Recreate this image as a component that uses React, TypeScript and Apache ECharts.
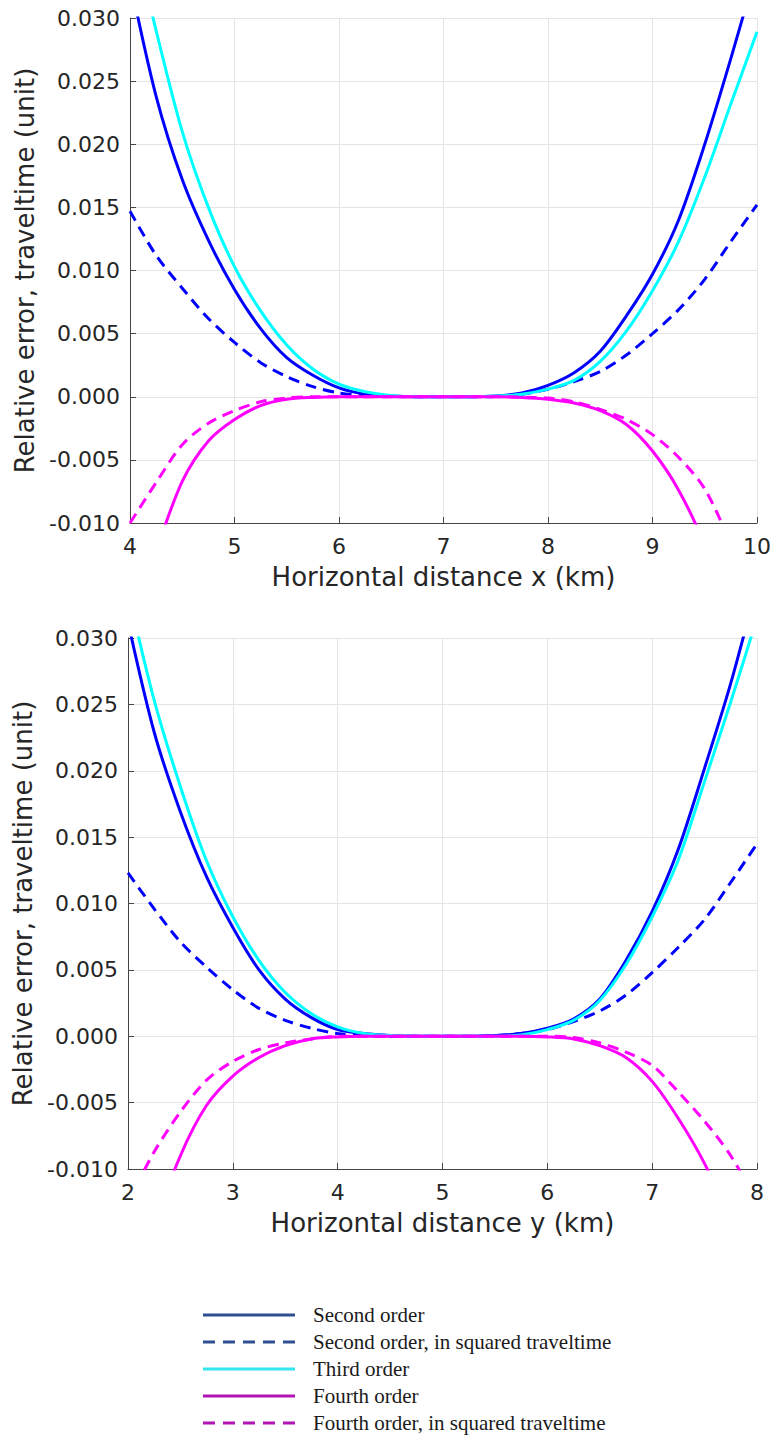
import React, { useEffect, useRef } from "react";
import * as echarts from "echarts";

// ---------- Data ----------
const topX = [4, 4.25, 4.5, 4.75, 5, 5.25, 5.5, 5.75, 6, 6.25, 6.5, 6.75, 7, 7.25, 7.5, 7.75, 8, 8.25, 8.5, 8.75, 9, 9.25, 9.5, 9.75, 10];
const topSecond = [0.033, 0.0238, 0.0172, 0.0124, 0.0085, 0.0054, 0.0031, 0.0017, 0.0007, 0.0002, 0.00005, 0, 0, 0, 0.00005, 0.0003, 0.0009, 0.0019, 0.0036, 0.0064, 0.0097, 0.014, 0.02, 0.0268, 0.034];
const topSecondSq = [0.0147, 0.0112, 0.0086, 0.0062, 0.0043, 0.0027, 0.0016, 0.0008, 0.0003, 0.0001, 0.00002, 0, 0, 0, 0.00003, 0.0002, 0.0006, 0.0012, 0.002, 0.0033, 0.005, 0.0069, 0.0093, 0.0123, 0.0152];
const topThird = [0.0377, 0.029, 0.021, 0.015, 0.0103, 0.0068, 0.0041, 0.0022, 0.001, 0.0004, 0.0001, 0, 0, 0, 0.00005, 0.0002, 0.0006, 0.0013, 0.0028, 0.0052, 0.0084, 0.0123, 0.0174, 0.0232, 0.0289];
const topFourth = [-0.018, -0.0122, -0.0067, -0.0035, -0.0018, -0.0007, -0.0002, -0.00005, 0, 0, 0, 0, 0, 0, 0, -0.00005, -0.0002, -0.0005, -0.0011, -0.0022, -0.0043, -0.0074, -0.0118, -0.018, -0.026];
const topFourthSq = [-0.01, -0.0068, -0.0038, -0.0021, -0.0011, -0.0004, -0.0001, 0, 0, 0, 0, 0, 0, 0, 0, -0.00003, -0.0001, -0.0004, -0.001, -0.0018, -0.003, -0.0048, -0.0073, -0.0117, -0.017];

const botX = [2, 2.25, 2.5, 2.75, 3, 3.25, 3.5, 3.75, 4, 4.25, 4.5, 4.75, 5, 5.25, 5.5, 5.75, 6, 6.25, 6.5, 6.75, 7, 7.25, 7.5, 7.75, 8];
const botSecond = [0.0312, 0.0229, 0.0169, 0.012, 0.0082, 0.005, 0.0028, 0.0014, 0.0005, 0.0002, 0.00005, 0, 0, 0, 0.00005, 0.0002, 0.0006, 0.0013, 0.0028, 0.0057, 0.0094, 0.0141, 0.0202, 0.0266, 0.034];
const botSecondSq = [0.0123, 0.0096, 0.0071, 0.0052, 0.0035, 0.0021, 0.0012, 0.0006, 0.0002, 0.00005, 0, 0, 0, 0, 0.00005, 0.0002, 0.0005, 0.0011, 0.0019, 0.0031, 0.0048, 0.0067, 0.0088, 0.0116, 0.0145];
const botThird = [0.0335, 0.0253, 0.0188, 0.0132, 0.009, 0.0057, 0.0033, 0.0017, 0.0007, 0.0002, 0.00005, 0, 0, 0, 0, 0.0001, 0.0005, 0.0012, 0.0027, 0.0054, 0.009, 0.0133, 0.0192, 0.0252, 0.0315];
const botFourth = [-0.025, -0.0145, -0.009, -0.0052, -0.003, -0.0016, -0.0007, -0.0002, -0.00005, 0, 0, 0, 0, 0, 0, 0, -0.00005, -0.0002, -0.0007, -0.0016, -0.0034, -0.0062, -0.0096, -0.014, -0.02];
const botFourthSq = [-0.0125, -0.0087, -0.0057, -0.0033, -0.0019, -0.001, -0.0005, -0.0002, 0, 0, 0, 0, 0, 0, 0, 0, 0, -0.0001, -0.0005, -0.0012, -0.0022, -0.0042, -0.0064, -0.009, -0.0125];

const seriesNames = [
  "Second order",
  "Second order, in squared traveltime",
  "Third order",
  "Fourth order",
  "Fourth order, in squared traveltime",
];
const lineColors = ["#0000FF", "#0000FF", "#00FFFF", "#FF00FF", "#FF00FF"];
const legendColors = ["#2d4f91", "#2d4f91", "#33e6f0", "#b313b3", "#b313b3"];
const dashed = [false, true, false, false, true];

const yTicksFormat = (v: number) => v.toFixed(3);

export default function App() {
  const ref = useRef<HTMLDivElement>(null);

  useEffect(() => {
    if (!ref.current) return;
    const chart = echarts.init(ref.current, null, { renderer: "svg" });

    const font = "DejaVu Sans";
    const textColor = "#262626";
    const axisColor = "#454545";
    const gridColor = "#e4e4e4";

    const makeX = (gridIndex: number, min: number, max: number, name: string) => ({
      type: "value",
      gridIndex,
      min,
      max,
      interval: 1,
      name,
      nameLocation: "middle",
      nameGap: 41,
      nameTextStyle: { fontFamily: font, fontSize: 26, color: textColor },
      axisLine: { show: true, onZero: false, lineStyle: { color: axisColor, width: 1 } },
      axisTick: { show: true, inside: true, length: 6, lineStyle: { color: axisColor } },
      axisLabel: { fontFamily: font, fontSize: 22, color: textColor, margin: 12 },
      splitLine: { show: true, lineStyle: { color: gridColor, width: 1 } },
    });
    const makeY = (gridIndex: number) => ({
      type: "value",
      gridIndex,
      min: -0.01,
      max: 0.03,
      interval: 0.005,
      name: "Relative error, traveltime (unit)",
      nameLocation: "middle",
      nameGap: 92,
      nameTextStyle: { fontFamily: font, fontSize: 26, color: textColor },
      axisLine: { show: true, onZero: false, lineStyle: { color: axisColor, width: 1 } },
      axisTick: { show: true, inside: true, length: 6, lineStyle: { color: axisColor } },
      axisLabel: { fontFamily: font, fontSize: 22, color: textColor, margin: 10, formatter: yTicksFormat },
      splitLine: { show: true, lineStyle: { color: gridColor, width: 1 } },
    });

    const topSets = [topSecond, topSecondSq, topThird, topFourth, topFourthSq];
    const botSets = [botSecond, botSecondSq, botThird, botFourth, botFourthSq];

    const buildSeries = (xs: number[], sets: number[][], idx: number) =>
      sets.map((ys, i) => ({
        type: "line",
        name: seriesNames[i],
        xAxisIndex: idx,
        yAxisIndex: idx,
        data: xs.map((x, k) => [x, ys[k]]),
        showSymbol: false,
        symbol: "none",
        smooth: 0.3,
        clip: true,
        itemStyle: { color: lineColors[i] },
        lineStyle: {
          color: lineColors[i],
          width: 3,
          type: dashed[i] ? [11, 7] : "solid",
        },
        z: 2 + i,
      }));

    // Legend drawn as graphic elements (lines + texts)
    const legendLeft = 203;
    const legendLineW = 92;
    const legendTop = 1315;
    const legendStep = 27;
    const legendGraphic = seriesNames.flatMap((n, i) => [
      {
        type: "line",
        shape: {
          x1: legendLeft,
          y1: legendTop + i * legendStep,
          x2: legendLeft + legendLineW,
          y2: legendTop + i * legendStep,
        },
        style: {
          stroke: legendColors[i],
          lineWidth: 3,
          lineDash: dashed[i] ? [12, 8] : null,
        },
        silent: true,
      },
      {
        type: "text",
        x: 313,
        y: legendTop + i * legendStep,
        style: {
          text: n,
          fontFamily: "Liberation Serif",
          fontSize: 21,
          fill: "#1a1a1a",
          verticalAlign: "middle",
          align: "left",
        },
        silent: true,
      },
    ]);

    const option = {
      animation: false,
      backgroundColor: "#ffffff",
      grid: [
        { left: 130, top: 18, width: 627, height: 505 },
        { left: 128, top: 638, width: 629, height: 531 },
      ],
      xAxis: [
        makeX(0, 4, 10, "Horizontal distance x (km)"),
        makeX(1, 2, 8, "Horizontal distance y (km)"),
      ],
      yAxis: [makeY(0), makeY(1)],
      graphic: legendGraphic,
      series: [...buildSeries(topX, topSets, 0), ...buildSeries(botX, botSets, 1)],
    };

    chart.setOption(option as any);
    return () => chart.dispose();
  }, []);

  return (
    <div
      ref={ref}
      style={{ position: "absolute", left: 0, top: 0, width: 774, height: 1436, background: "#fff" }}
    />
  );
}
